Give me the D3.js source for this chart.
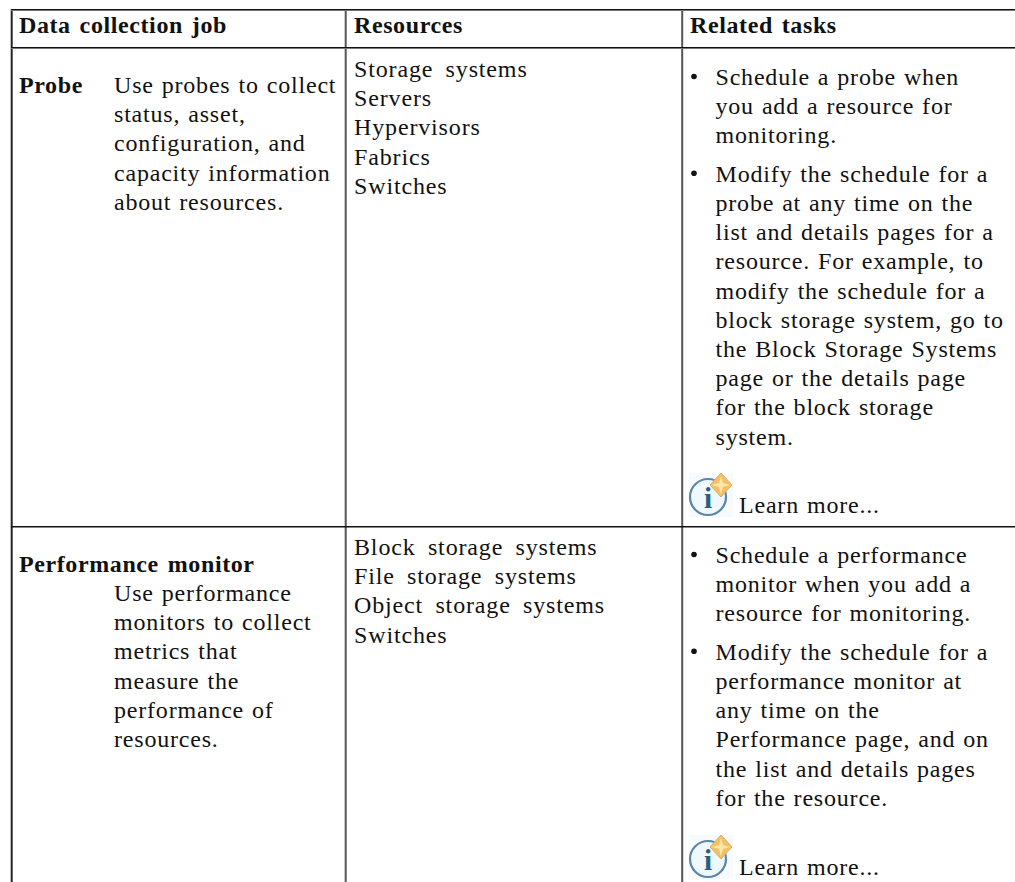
<!DOCTYPE html>
<html><head><meta charset="utf-8">
<script src="https://cdn.jsdelivr.net/npm/d3@7/dist/d3.min.js"></script>
<style>html,body{margin:0;padding:0;background:#fff}svg{display:block}
text{font-family:"Liberation Serif",serif;fill:#111;font-size:24px;word-spacing:1.2px;letter-spacing:.8px}
.b{font-weight:bold;letter-spacing:.6px;word-spacing:2.3px}
.r{word-spacing:5.5px;letter-spacing:.85px}</style></head><body><svg id="c" width="1015" height="882"></svg>
<script>
const headers = ["Data collection job","Resources","Related tasks"];
const probeName = "Probe";
const probeLines = ["Use probes to collect","status, asset,","configuration, and","capacity information","about resources."];
const probeResources = ["Storage systems","Servers","Hypervisors","Fabrics","Switches"];
const probeTasks = [["Schedule a probe when","you add a resource for","monitoring."],
 ["Modify the schedule for a","probe at any time on the","list and details pages for a","resource. For example, to","modify the schedule for a","block storage system, go to","the Block Storage Systems","page or the details page","for the block storage","system."]];
const perfName = "Performance monitor";
const perfLines = ["Use performance","monitors to collect","metrics that","measure the","performance of","resources."];
const perfResources = ["Block storage systems","File storage systems","Object storage systems","Switches"];
const perfTasks = [["Schedule a performance","monitor when you add a","resource for monitoring."],
 ["Modify the schedule for a","performance monitor at","any time on the","Performance page, and on","the list and details pages","for the resource."]];
const learn = "Learn more...";
const LH = 29.2;
const svg = d3.select("#c");
function put(lines,x,y,cls){
  svg.append("g").selectAll("text").data(lines).join("text")
   .attr("x",x).attr("y",(d,i)=>y+i*LH).attr("class",cls||null).text(d=>d);
}
function tasks(groups,y0,gap){
  let y=y0;
  groups.forEach(g=>{
    svg.append("circle").attr("cx",694).attr("cy",y-8.5).attr("r",2.8).attr("fill","#111");
    put(g,715.5,y); y+=g.length*LH+gap;
  });
}
function icon(x,y){
  const g=svg.append("g").attr("transform",`translate(${x},${y})`);
  g.append("rect").attr("x",0).attr("y",0).attr("width",44).attr("height",44).attr("fill","#f8fbfe");
  g.append("circle").attr("cx",19).attr("cy",24).attr("r",18).attr("fill","#eef8fd").attr("stroke","#5b86ab").attr("stroke-width",2.2);
  g.append("text").attr("x",19).attr("y",35).attr("text-anchor","middle").attr("style","font-size:29px;font-weight:bold;fill:#22607f;letter-spacing:0").text("i");
  g.append("path").attr("d",d3.line()([[32,0],[43,12],[32,24],[21,12]])+"Z").attr("fill","#f3c069").attr("stroke","#e0ad62").attr("stroke-width",1);
  g.append("path").attr("d",d3.line()([[32,3],[34,10],[41,12],[34,14],[32,21],[30,14],[23,12],[30,10]])+"Z").attr("fill","#fbe6a6");
}
const vlines=[[11.7,"#222"],[345.7,"#555"],[682.2,"#555"]];
svg.append("g").selectAll("line").data(vlines).join("line")
 .attr("x1",d=>d[0]).attr("x2",d=>d[0]).attr("y1",9).attr("y2",882).attr("stroke",d=>d[1]).attr("stroke-width",2);
const hlines=[[9.5,"#111",1],[10.5,"#777",1],[47.5,"#111",1],[48.5,"#777",1],[526.7,"#111",1.6]];
svg.append("g").selectAll("line").data(hlines).join("line")
 .attr("x1",11).attr("x2",1015).attr("y1",d=>d[0]).attr("y2",d=>d[0]).attr("stroke",d=>d[1]).attr("stroke-width",d=>d[2]);
put([headers[0]],19,33,"b");put([headers[1]],354,33,"b");put([headers[2]],690,33,"b");
put([probeName],19,93,"b");put(probeLines,114,93);put(probeResources,354,77,"r");
tasks(probeTasks,85,9.2);icon(689,473);svg.append("text").attr("x",739).attr("y",513).text(learn);
put([perfName],19,572,"b");put(perfLines,114,601);put(perfResources,354,555,"r");
tasks(perfTasks,563,9.2);icon(689,835);svg.append("text").attr("x",739).attr("y",875).text(learn);
</script></body></html>
